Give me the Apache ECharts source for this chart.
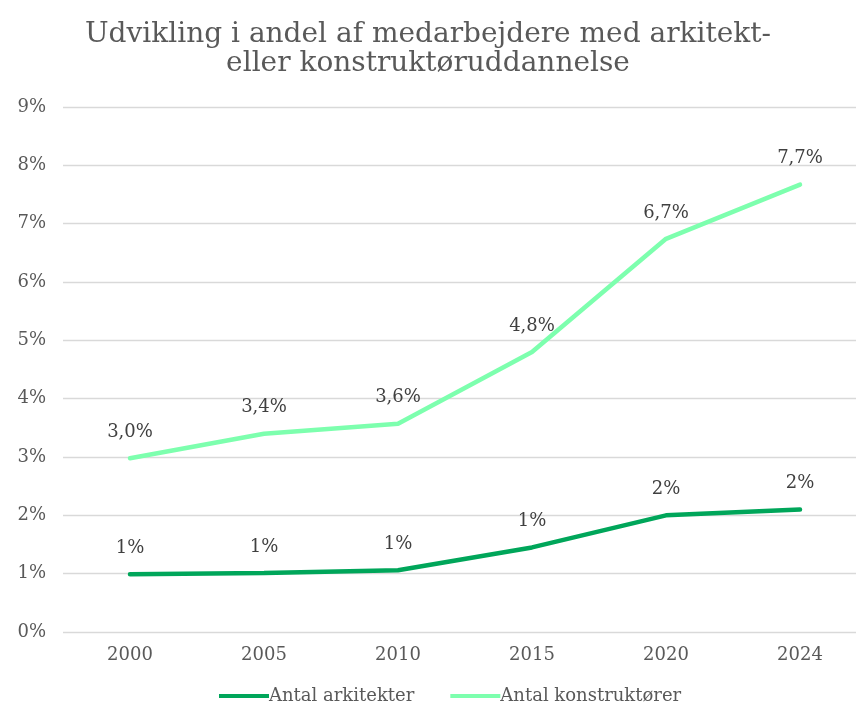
<!DOCTYPE html>
<html>
<head>
<meta charset="utf-8">
<script src="https://cdn.jsdelivr.net/npm/echarts@6/dist/echarts.min.js"></script>
<style>
* { margin: 0; padding: 0; }
body { background: #fff; }
</style>
</head>
<body>
<div id="main" style="width: 856px;height: 703px;"></div>
<script>
// årstal og andele i procent
const years = ["2000", "2005", "2010", "2015", "2020", "2024"];
const arkitekter = [0.99, 1.01, 1.06, 1.45, 2.0, 2.1];
const konstruktoerer = [2.98, 3.4, 3.57, 4.8, 6.74, 7.67];
const yTicks = ["0%", "1%", "2%", "3%", "4%", "5%", "6%", "7%", "8%", "9%"];

const font = "DejaVu Serif";

let chart = echarts.init(document.getElementById("main"));
chart.setOption({
  animation: false,
  title: {
    text: "Udvikling i andel af medarbejdere med arkitekt-\neller konstruktøruddannelse",
    left: "center",
    top: 15,
    textStyle: {
      fontFamily: font,
      fontWeight: "normal",
      fontSize: 28,
      lineHeight: 29,
      color: "#595959"
    }
  },
  grid: {
    left: 63,
    right: -11,
    top: 107,
    bottom: 71,
    containLabel: false,
    outerBoundsMode: "none"
  },
  legend: {
    top: 682,
    left: 214,
    itemWidth: 50,
    itemHeight: 4,
    itemGap: 36,
    icon: "rect",
    textStyle: { fontFamily: font, fontSize: 18, color: "#595959", padding: [0, 0, 0, -5] },
    data: ["Antal arkitekter", "Antal konstruktører"]
  },
  xAxis: {
    type: "category",
    data: years,
    boundaryGap: true,
    axisLine: { show: false },
    axisTick: { show: false },
    axisLabel: { fontFamily: font, fontSize: 18, color: "#595959", margin: 14 }
  },
  yAxis: {
    type: "value",
    min: 0,
    max: 9,
    interval: 1,
    axisLabel: {
      fontFamily: font,
      fontSize: 18,
      color: "#595959",
      margin: 17,
      formatter: function (v) { return yTicks[Math.round(v)]; }
    },
    splitLine: { lineStyle: { color: "#d9d9d9", width: 1.3 } }
  },
  series: [
    {
      name: "Antal arkitekter",
      type: "line",
      data: arkitekter,
      symbol: "circle",
      symbolSize: 2,
      showSymbol: true,
      color: "#00a65a",
      lineStyle: { width: 4.5, cap: "round" },
      label: {
        show: true,
        position: "top",
        distance: 16,
        fontFamily: font,
        fontSize: 18,
        color: "#404040",
        formatter: function (p) { return Math.round(p.value) + "%"; }
      }
    },
    {
      name: "Antal konstruktører",
      type: "line",
      data: konstruktoerer,
      symbol: "circle",
      symbolSize: 2,
      showSymbol: true,
      color: "#7dffae",
      lineStyle: { width: 4.5, cap: "round" },
      label: {
        show: true,
        position: "top",
        distance: 16,
        fontFamily: font,
        fontSize: 18,
        color: "#404040",
        formatter: function (p) { return p.value.toFixed(1).replace(".", ",") + "%"; }
      }
    }
  ]
});
</script>
</body>
</html>
